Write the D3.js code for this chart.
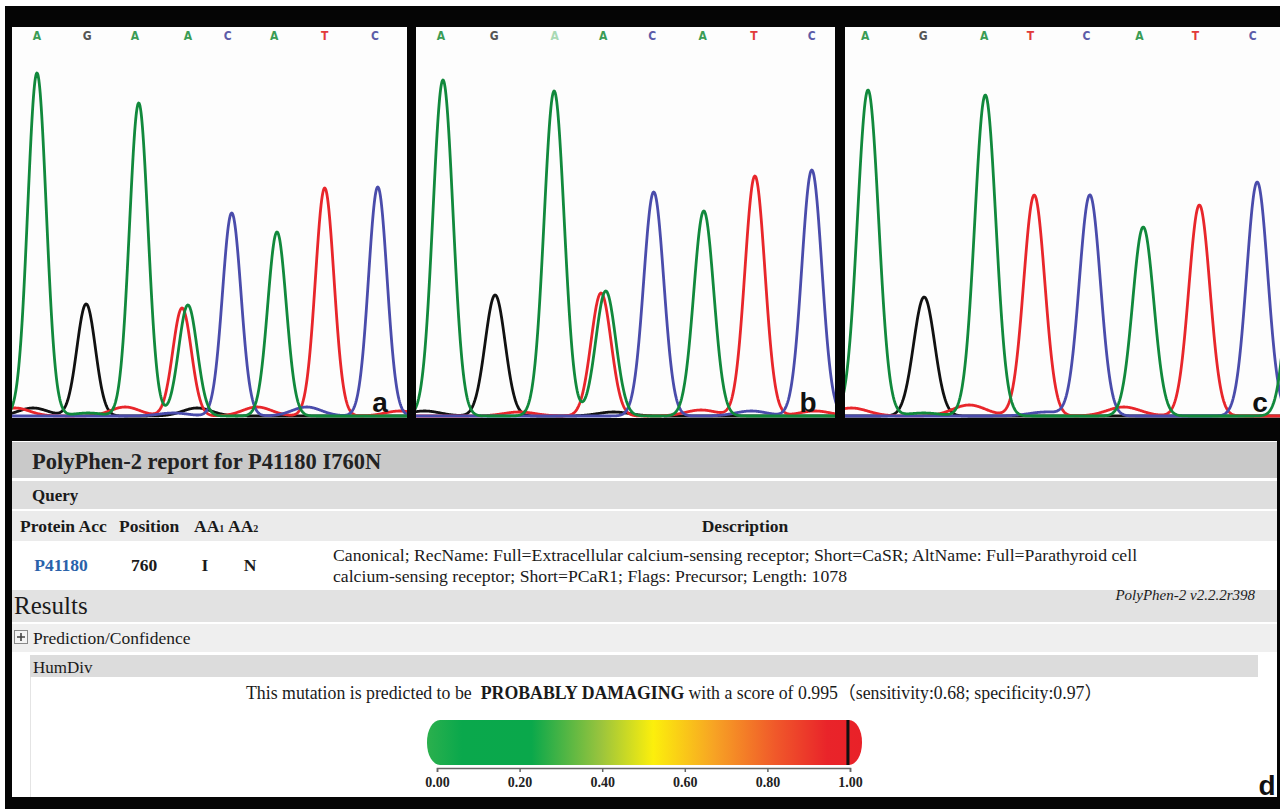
<!DOCTYPE html>
<html>
<head>
<meta charset="utf-8">
<script src="https://cdn.jsdelivr.net/npm/d3@7"></script>
<style>
  body { margin: 0; background: #fff; }
  svg { display: block; }
</style>
</head>
<body>
<script>
// ---- chromatogram data (base units along x, signal height along y) ----
var callsA = ["A", "G", "A", "A", "C", "A", "T", "C"];
var callsB = ["A", "G", "A", "A", "C", "A", "T", "C"];
var callsC = ["A", "G", "A", "T", "C", "A", "T", "C"];
var callPosA = [0, 1.03, 2.01, 3.10, 3.92, 4.87, 5.91, 6.94];
var callPosB = [-0.04, 0.97, 2.12, 3.04, 3.97, 4.93, 5.90, 7.0];
var callPosC = [-0.05, 0.99, 2.09, 2.92, 3.93, 4.88, 5.89, 6.92];

// main peaks: [channel, position, height]
var peaksA = [["A", 0, 343], ["G", 1.01, 112], ["A", 2.09, 313], ["T", 2.98, 108], ["A", 3.10, 111],
              ["C", 4.00, 203], ["A", 4.93, 184], ["T", 5.91, 228], ["C", 7.00, 229]];
var peaksB = [["A", 0, 336], ["G", 0.99, 121], ["A", 2.11, 325], ["T", 3.00, 123], ["A", 3.09, 125],
              ["C", 4.00, 224], ["A", 4.95, 205], ["T", 5.92, 240], ["C", 7.00, 246]];
var peaksC = [["A", 0, 326], ["G", 1.01, 119], ["A", 2.11, 321], ["T", 2.99, 221], ["C", 3.99, 221],
              ["A", 4.95, 189], ["T", 5.96, 211], ["C", 7.00, 234], ["A", 7.75, 230]];

// small baseline bumps: [channel, position, height]
var noiseA = [["T", -0.45, 8], ["T", 1.81, 9], ["T", 4.52, 9], ["T", 7.45, 5], ["G", -0.08, 8],
              ["G", 3.29, 8], ["C", 5.54, 9], ["C", 2.8, 3], ["A", 1.05, 3]];
var noiseB = [["G", -0.35, 5], ["T", 1.45, 4], ["T", 4.9, 6], ["C", 5.85, 5], ["T", 7.06, 5], ["G", 3.24, 4]];
var noiseC = [["T", -0.3, 8], ["T", 1.82, 11], ["T", 4.6, 9], ["C", 3.2, 4], ["A", 1.0, 3]];

var panelLabels = ["a", "b", "c"];

// ---- PolyPhen-2 report data ----
var reportTitle = "PolyPhen-2 report for P41180 I760N";
var queryHeaders = ["Protein Acc", "Position", "AA", "AA", "Description"];
var queryRow = ["P41180", "760", "I", "N"];
var descLines = ["Canonical; RecName: Full=Extracellular calcium-sensing receptor; Short=CaSR; AltName: Full=Parathyroid cell",
                 "calcium-sensing receptor; Short=PCaR1; Flags: Precursor; Length: 1078"];
var version = "PolyPhen-2 v2.2.2r398";
var prediction = "PROBABLY DAMAGING";
var score = 0.995;
var sensitivity = 0.68;
var specificity = 0.97;
var scoreTicks = [0, 0.2, 0.4, 0.6, 0.8, 1.0];

// ---- styles / layout ----
var W = 1280, H = 809;
var traceColor = { A: "#11893c", G: "#111111", C: "#4a4cab", T: "#e8262b" };
var letterColor = { A: "#3a9c55", G: "#555555", C: "#5c5ca8", T: "#e23a3a" };
var sigma = 0.19, noiseSigma = 0.3;
var serif = "'Liberation Serif','Times New Roman',serif";

var panels = [
  { x0: 12, x1: 407, dom: [-0.513, 7.60], calls: callsA, callPos: callPosA, peaks: peaksA, noise: noiseA },
  { x0: 416, x1: 835, dom: [-0.512, 7.44], calls: callsB, callPos: callPosB, peaks: peaksB, noise: noiseB, faded: 2 },
  { x0: 845, x1: 1280, dom: [-0.414, 7.41], calls: callsC, callPos: callPosC, peaks: peaksC, noise: noiseC }
];
var panelTop = 27, panelBottom = 418;

var svg = d3.select("body").append("svg")
  .attr("width", W).attr("height", H);

// black frame
svg.append("rect").attr("x", 5).attr("y", 6).attr("width", W - 5).attr("height", H - 6).attr("fill", "#050505");

var defs = svg.append("defs");

panels.forEach(function (p, i) {
  var xs = d3.scaleLinear().domain(p.dom).range([p.x0, p.x1]);
  var ys = d3.scaleLinear().domain([0, 390]).range([416, 26]);

  defs.append("clipPath").attr("id", "clip" + i)
    .append("rect").attr("x", p.x0).attr("y", panelTop)
    .attr("width", p.x1 - p.x0).attr("height", panelBottom - panelTop);

  svg.append("rect").attr("x", p.x0).attr("y", panelTop)
    .attr("width", p.x1 - p.x0).attr("height", panelBottom - panelTop).attr("fill", "#fdfdfd");

  var g = svg.append("g").attr("clip-path", "url(#clip" + i + ")");

  var us = d3.range(p.dom[0] - 0.2, p.dom[1] + 0.2, 0.01);
  ["G", "T", "C", "A"].forEach(function (ch) {
    var pk = p.peaks.filter(function (d) { return d[0] === ch; });
    var nz = p.noise.filter(function (d) { return d[0] === ch; });
    var pts = us.map(function (u) {
      var v = 0;
      pk.forEach(function (d) { v += d[2] * Math.exp(-Math.pow(u - d[1], 2) / (2 * sigma * sigma)); });
      nz.forEach(function (d) { v += d[2] * Math.exp(-Math.pow(u - d[1], 2) / (2 * noiseSigma * noiseSigma)); });
      return [u, v];
    });
    g.append("path")
      .attr("d", d3.line().x(function (d) { return xs(d[0]); }).y(function (d) { return ys(d[1]); })(pts))
      .attr("fill", "none")
      .attr("stroke", traceColor[ch])
      .attr("stroke-width", 2.8)
      .attr("stroke-linejoin", "round");
  });

  // base calls
  g.selectAll("text.call").data(p.calls).enter().append("text")
    .attr("class", "call")
    .attr("x", function (d, j) { return xs(p.callPos[j]); })
    .attr("y", 40)
    .attr("text-anchor", "middle")
    .attr("font-family", "'DejaVu Sans Condensed','DejaVu Sans',sans-serif")
    .attr("font-size", 12)
    .attr("font-weight", "bold")
    .attr("fill", function (d, j) { return j === p.faded ? "#a9d9b4" : letterColor[d]; })
    .text(function (d) { return d; });

  svg.append("text")
    .attr("x", p.x1 - (i === 2 ? 20 : 27)).attr("y", 412)
    .attr("text-anchor", "middle")
    .attr("font-family", "'Liberation Sans',Arial,sans-serif")
    .attr("font-weight", "bold").attr("font-size", 28)
    .attr("fill", "#111")
    .text(panelLabels[i]);
});

// ---- report section ----
var rx0 = 12, rx1 = 1277;
function band(y0, y1, fill, x0, x1) {
  svg.append("rect").attr("x", x0 === undefined ? rx0 : x0).attr("y", y0)
    .attr("width", (x1 === undefined ? rx1 : x1) - (x0 === undefined ? rx0 : x0))
    .attr("height", y1 - y0).attr("fill", fill);
}
band(441, 797, "#ffffff");
band(442, 478, "#c9c9c9");
band(481, 509, "#dedede");
band(511, 541, "#ebebeb");
band(542, 589, "#ffffff");
band(590, 622, "#e2e2e2");
band(624, 652, "#efefef");
band(655, 677, "#dcdcdc", 30, 1258);
svg.append("line").attr("x1", 30.5).attr("x2", 30.5).attr("y1", 677).attr("y2", 797)
  .attr("stroke", "#e4e4e4").attr("stroke-width", 1);

function txt(x, y, s, size, opts) {
  opts = opts || {};
  return svg.append("text").attr("x", x).attr("y", y)
    .attr("font-family", serif).attr("font-size", size)
    .attr("font-weight", opts.bold ? "bold" : "normal")
    .attr("font-style", opts.italic ? "italic" : "normal")
    .attr("text-anchor", opts.anchor || "start")
    .attr("fill", opts.fill || "#1a1a1a")
    .text(s);
}

txt(32, 469, reportTitle, 22.5, { bold: true, fill: "#222" });
txt(32, 501, "Query", 17, { bold: true });

// table header
var headerX = [20, 119, 194, 228];
queryHeaders.slice(0, 2).forEach(function (h, i) { txt(headerX[i], 532, h, 17.5, { bold: true }); });
[2, 3].forEach(function (i, k) {
  var t = txt(headerX[i], 532, queryHeaders[i], 17.5, { bold: true });
  t.append("tspan").attr("font-size", 10).text(k + 1);
});
txt(745, 532, queryHeaders[4], 17.5, { bold: true, anchor: "middle" });

// table row
var rowX = [61, 144, 205, 250];
queryRow.forEach(function (v, i) {
  txt(rowX[i], 571, v, 17.5, { bold: true, anchor: "middle", fill: i === 0 ? "#2a62aa" : "#1a1a1a" });
});
descLines.forEach(function (l, i) { txt(333, 561 + i * 21, l, 17.7); });

txt(1255, 600, version, 15, { italic: true, anchor: "end" });
txt(14, 614, "Results", 25);

// expand icon
svg.append("rect").attr("x", 14.5).attr("y", 630.5).attr("width", 13).attr("height", 13)
  .attr("fill", "#f4f4f4").attr("stroke", "#8a8a8a");
svg.append("path").attr("d", "M17,637H25M21,633V641").attr("stroke", "#444").attr("stroke-width", 1.6);
txt(33, 644, "Prediction/Confidence", 17.5);
txt(33, 673, "HumDiv", 17);

var sentence = svg.append("text").attr("x", 246).attr("y", 699)
  .attr("font-family", serif + ",'Noto Sans CJK SC'").attr("font-size", 17.8).attr("fill", "#1a1a1a");
sentence.append("tspan").text("This mutation is predicted to be");
sentence.append("tspan").attr("dx", 9).attr("font-weight", "bold").text(prediction);
sentence.append("tspan").attr("dx", 4).text("with a score of " + score.toFixed(3));
sentence.append("tspan").attr("font-family", "'Noto Sans CJK SC'")
  .text("（");
sentence.append("tspan").text("sensitivity:" + sensitivity.toFixed(2) + "; specificity:" + specificity.toFixed(2));
sentence.append("tspan").attr("font-family", "'Noto Sans CJK SC'").text("）");

// score gradient bar
var sx = d3.scaleLinear().domain([0, 1]).range([437, 850]);
var gradStops = [[0, "#2bb04d"], [0.08, "#0aa84c"], [0.24, "#0aa84b"], [0.40, "#9ac43d"],
                 [0.52, "#fcef0c"], [0.66, "#f7a324"], [0.80, "#f0592a"], [0.92, "#e9242a"], [1, "#e92128"]];
var grad = defs.append("linearGradient").attr("id", "scoreGrad")
  .attr("x1", "0%").attr("x2", "100%").attr("y1", "0%").attr("y2", "0%");
grad.selectAll("stop").data(gradStops).enter().append("stop")
  .attr("offset", function (d) { return (d[0] * 100) + "%"; })
  .attr("stop-color", function (d) { return d[1]; });
svg.append("rect").attr("x", 427).attr("y", 720).attr("width", 435).attr("height", 45)
  .attr("rx", 13).attr("ry", 22).attr("fill", "url(#scoreGrad)");
svg.append("line").attr("x1", sx(score)).attr("x2", sx(score)).attr("y1", 720).attr("y2", 765)
  .attr("stroke", "#111").attr("stroke-width", 3);

var axis = d3.axisBottom(sx).tickValues(scoreTicks).tickFormat(d3.format(".2f"))
  .tickSizeInner(4).tickSizeOuter(4).tickPadding(5);
var ax = svg.append("g").attr("transform", "translate(0,768)").call(axis);
ax.select(".domain").attr("stroke", "#666").attr("stroke-width", 1.5);
ax.selectAll(".tick line").attr("stroke", "#666").attr("stroke-width", 1.5);
ax.selectAll(".tick text").attr("font-family", serif).attr("font-size", 14)
  .attr("font-weight", "bold").attr("fill", "#222");

svg.append("text").attr("x", 1267).attr("y", 795).attr("text-anchor", "middle")
  .attr("font-family", "'Liberation Sans',Arial,sans-serif")
  .attr("font-weight", "bold").attr("font-size", 28).attr("fill", "#111").text("d");
</script>
</body>
</html>
